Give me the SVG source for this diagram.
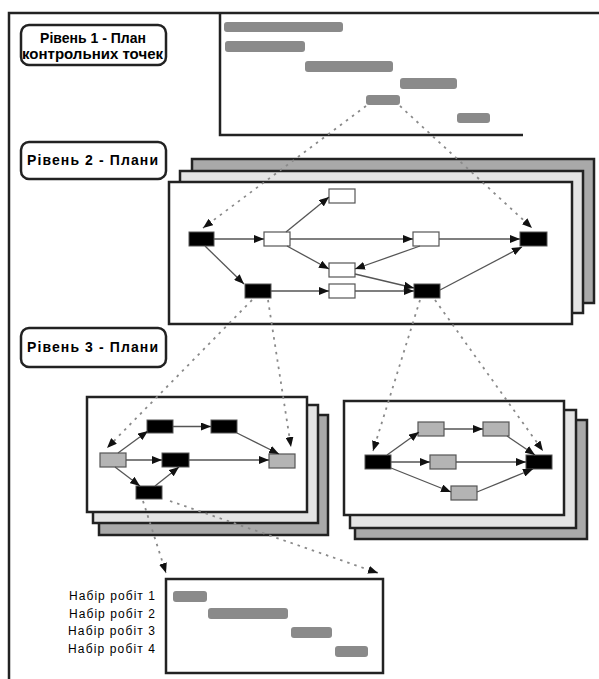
<svg xmlns="http://www.w3.org/2000/svg" width="599" height="679" viewBox="0 0 599 679">
<defs>
<marker id="ah" markerUnits="userSpaceOnUse" markerWidth="10" markerHeight="8" refX="10" refY="4" orient="auto"><path d="M0,0 L10,4 L0,8 z" fill="#111"/></marker>
<marker id="dh" markerUnits="userSpaceOnUse" markerWidth="10" markerHeight="8" refX="10" refY="4" orient="auto"><path d="M0,0 L10,4 L0,8 z" fill="#111"/></marker>
<style>
.lab{fill:#fff;stroke:#222;stroke-width:2.5}
.lt{font-family:"Liberation Sans",Arial,sans-serif;font-weight:bold;font-size:14px;fill:#000}
.bar{fill:#8a8a8a}
.frm{fill:#fff;stroke:#222;stroke-width:2.5}
.f2{fill:#e4e4e4;stroke:#222;stroke-width:2.5}
.f3{fill:#a9a9a9;stroke:#222;stroke-width:2.5}
.nb{fill:#000;stroke:#555;stroke-width:1}
.nw{fill:#fff;stroke:#555;stroke-width:1.2}
.ng{fill:#b4b4b4;stroke:#555;stroke-width:1.2}
.e{stroke:#555;stroke-width:1.3;fill:none;marker-end:url(#ah)}
.d{stroke:#8a8a8a;stroke-width:1.8;fill:none;stroke-dasharray:2.5 5;marker-end:url(#dh)}
.gt{font-family:"Liberation Sans",Arial,sans-serif;font-size:12px;fill:#000;text-anchor:end}
</style>
</defs>
<rect width="599" height="679" fill="#fff"/>
<!-- outer frame -->
<path d="M9,679 L9,13 L599,13" fill="none" stroke="#222" stroke-width="2.5"/>

<g id="label1">
<rect class="lab" x="21" y="25" width="145" height="40" rx="8"/>
<text class="lt" x="93" y="43" text-anchor="middle">Рівень 1 - План</text>
<text class="lt" x="22" y="59" textLength="141" lengthAdjust="spacingAndGlyphs">контрольних точек</text>
</g>
<g id="label2">
<rect class="lab" x="21" y="142" width="145" height="37" rx="8"/>
<text class="lt" x="27" y="165" textLength="131" lengthAdjust="spacing">Рівень 2 - Плани</text>
</g>
<g id="label3">
<rect class="lab" x="21" y="328" width="145" height="39" rx="8"/>
<text class="lt" x="27" y="352" textLength="131" lengthAdjust="spacing">Рівень 3 - Плани</text>
</g>

<g id="gantt1">
<path d="M220,13 L220,135 L523,135" fill="none" stroke="#222" stroke-width="2.5"/>
<rect class="bar" x="224" y="22" width="119" height="10" rx="3"/>
<rect class="bar" x="225" y="41" width="80" height="11" rx="3"/>
<rect class="bar" x="305" y="61" width="88" height="11" rx="3"/>
<rect class="bar" x="400" y="78" width="57" height="11" rx="3"/>
<rect class="bar" x="366" y="95" width="34" height="10" rx="3"/>
<rect class="bar" x="457" y="113" width="33" height="10" rx="3"/>
</g>

<g id="plan2">
<rect class="f3" x="192" y="159" width="402" height="144"/>
<rect class="f2" x="180" y="171" width="403" height="142"/>
<rect class="frm" x="169" y="182" width="403" height="142"/>
<g id="n2A"><rect class="nb" x="189" y="232" width="25" height="14"/></g>
<g id="n2B"><rect class="nw" x="264" y="232" width="26" height="14"/></g>
<g id="n2C"><rect class="nb" x="245" y="284" width="26" height="14"/></g>
<g id="n2D"><rect class="nw" x="329" y="189" width="26" height="14"/></g>
<g id="n2E"><rect class="nw" x="413" y="232" width="26" height="14"/></g>
<g id="n2F"><rect class="nb" x="520" y="232" width="27" height="14"/></g>
<g id="n2G"><rect class="nw" x="329" y="263" width="26" height="14"/></g>
<g id="n2H"><rect class="nw" x="329" y="284" width="26" height="14"/></g>
<g id="n2I"><rect class="nb" x="414" y="284" width="26" height="14"/></g>
</g>

<g id="plan3a">
<rect class="f3" x="99" y="415" width="229" height="120"/>
<rect class="f2" x="93" y="405" width="225" height="118"/>
<rect class="frm" x="87" y="397" width="220" height="115"/>
<g id="n3L1"><rect class="ng" x="100" y="453" width="26" height="14"/></g>
<g id="n3M1"><rect class="nb" x="147" y="420" width="26" height="13"/></g>
<g id="n3M2"><rect class="nb" x="211" y="420" width="26" height="13"/></g>
<g id="n3M3"><rect class="nb" x="162" y="453" width="27" height="14"/></g>
<g id="n3M4"><rect class="nb" x="136" y="486" width="26" height="13"/></g>
<g id="n3R1"><rect class="ng" x="269" y="454" width="26" height="14"/></g>
</g>

<g id="plan3b">
<rect class="f3" x="355" y="420" width="232" height="119"/>
<rect class="f2" x="350" y="410" width="226" height="118"/>
<rect class="frm" x="344" y="401" width="220" height="114"/>
<g id="n3P1"><rect class="nb" x="365" y="455" width="26" height="14"/></g>
<g id="n3Q1"><rect class="ng" x="418" y="422" width="26" height="14"/></g>
<g id="n3Q2"><rect class="ng" x="483" y="422" width="26" height="14"/></g>
<g id="n3Q3"><rect class="ng" x="430" y="455" width="26" height="14"/></g>
<g id="n3Q4"><rect class="ng" x="451" y="486" width="26" height="14"/></g>
<g id="n3P2"><rect class="nb" x="526" y="455" width="26" height="14"/></g>
</g>

<g id="gantt4">
<rect class="frm" x="166" y="579" width="217" height="94"/>
<rect class="bar" x="173" y="591" width="34" height="11" rx="3"/>
<rect class="bar" x="208" y="608" width="80" height="11" rx="3"/>
<rect class="bar" x="291" y="627" width="41" height="11" rx="3"/>
<rect class="bar" x="335" y="646" width="33" height="11" rx="3"/>
<text class="gt" x="155" y="600" textLength="86" lengthAdjust="spacing">Набір робіт 1</text>
<text class="gt" x="155" y="617.5" textLength="86" lengthAdjust="spacing">Набір робіт 2</text>
<text class="gt" x="155" y="635" textLength="87" lengthAdjust="spacing">Набір робіт 3</text>
<text class="gt" x="155" y="652.5" textLength="87" lengthAdjust="spacing">Набір робіт 4</text>
</g>

<g id="connectors">
<!-- level 2 -->
<line class="e" x1="214" y1="239" x2="264" y2="239"/>
<line class="e" x1="205" y1="246" x2="244" y2="284"/>
<line class="e" x1="286" y1="232" x2="329" y2="197"/>
<line class="e" x1="290" y1="239" x2="413" y2="239"/>
<line class="e" x1="287" y1="246" x2="329" y2="269"/>
<line class="e" x1="439" y1="239" x2="520" y2="239"/>
<line class="e" x1="420" y1="246" x2="355" y2="269"/>
<line class="e" x1="355" y1="274" x2="414" y2="288"/>
<line class="e" x1="271" y1="291" x2="329" y2="291"/>
<line class="e" x1="355" y1="291" x2="414" y2="291"/>
<line class="e" x1="440" y1="290" x2="522" y2="247"/>
<!-- level 3 left -->
<line class="e" x1="118" y1="453" x2="148" y2="431"/>
<line class="e" x1="173" y1="426.5" x2="211" y2="426.5"/>
<line class="e" x1="237" y1="433" x2="279" y2="454"/>
<line class="e" x1="126" y1="460" x2="162" y2="460"/>
<line class="e" x1="189" y1="460" x2="269" y2="460"/>
<line class="e" x1="115" y1="467" x2="140" y2="486"/>
<line class="e" x1="155" y1="486" x2="179" y2="467"/>
<!-- level 3 right -->
<line class="e" x1="387" y1="455" x2="419" y2="432"/>
<line class="e" x1="444" y1="429" x2="483" y2="429"/>
<line class="e" x1="507" y1="436" x2="535" y2="455"/>
<line class="e" x1="391" y1="462" x2="430" y2="462"/>
<line class="e" x1="456" y1="462" x2="526" y2="462"/>
<line class="e" x1="391" y1="468" x2="451" y2="492"/>
<line class="e" x1="477" y1="492" x2="533" y2="469"/>
<!-- dashed -->
<line class="d" x1="366" y1="106" x2="203" y2="228"/>
<line class="d" x1="400" y1="106" x2="532" y2="228"/>
<line class="d" x1="252" y1="300" x2="107" y2="448"/>
<line class="d" x1="268" y1="300" x2="291" y2="447"/>
<line class="d" x1="420" y1="300" x2="373" y2="451"/>
<line class="d" x1="435" y1="300" x2="543" y2="451"/>
<line class="d" x1="143" y1="501" x2="166" y2="573"/>
<line class="d" x1="170" y1="501" x2="378" y2="573"/>
</g>
</svg>
